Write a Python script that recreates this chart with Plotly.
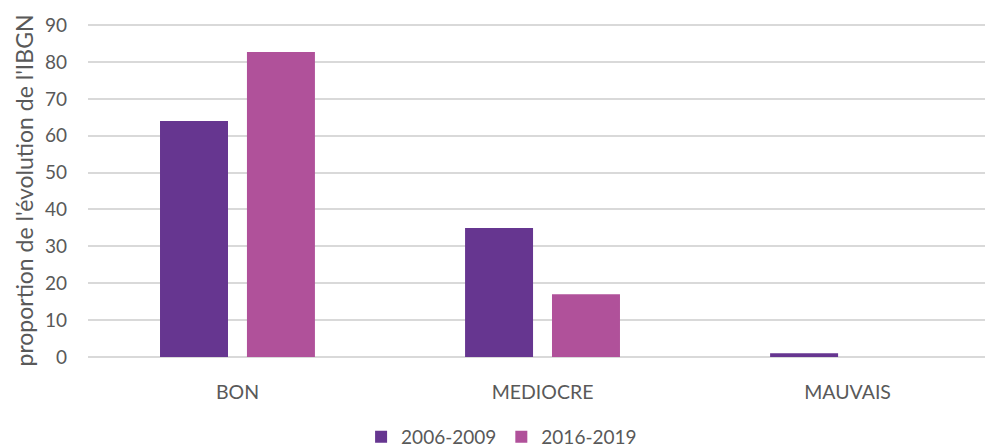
import plotly.graph_objects as go

categories = ["BON", "MEDIOCRE", "MAUVAIS"]
series_names = ["2006-2009", "2016-2019"]
values_2006_2009 = [64, 35, 1]
values_2016_2019 = [82.7, 17, 0]
y_ticks = [0, 10, 20, 30, 40, 50, 60, 70, 80, 90]

colors = ["#663690", "#B0519A"]
font_family = "Lato, 'Open Sans', sans-serif"
grey = "#595959"

fig = go.Figure()
for name, vals, col in zip(series_names, [values_2006_2009, values_2016_2019], colors):
    fig.add_trace(go.Bar(x=categories, y=vals, name=name, marker=dict(color=col, line=dict(width=0))))

fig.update_layout(
    width=993, height=447,
    margin=dict(l=80, r=0, t=16, b=98, autoexpand=False),
    paper_bgcolor="white", plot_bgcolor="white",
    barmode="group", bargap=0.43, bargroupgap=0.218,
    font=dict(family=font_family, color=grey, size=18),
    legend=dict(orientation="h", x=0.453, xanchor="center", y=-0.297, yanchor="bottom",
                font=dict(size=19, color=grey), traceorder="normal"),
    showlegend=True,
)
fig.update_yaxes(range=[0, 90.3], tickvals=y_ticks, showgrid=True, gridcolor="#D9D9D9", gridwidth=1.5,
                 zeroline=True, zerolinecolor="#D9D9D9", zerolinewidth=1.5,
                 tickfont=dict(size=19, color=grey), ticks="", ticklabelstandoff=20,
                 title=dict(text="proportion de l'évolution de l'IBGN", font=dict(size=23, color=grey), standoff=4),
                 showline=False, automargin=False)
fig.update_xaxes(showgrid=False, showline=False, tickfont=dict(size=19.5, color=grey), ticks="",
                 range=[-0.490, 2.503], ticklabelstandoff=21, automargin=False)

fig.write_html("out.html")
